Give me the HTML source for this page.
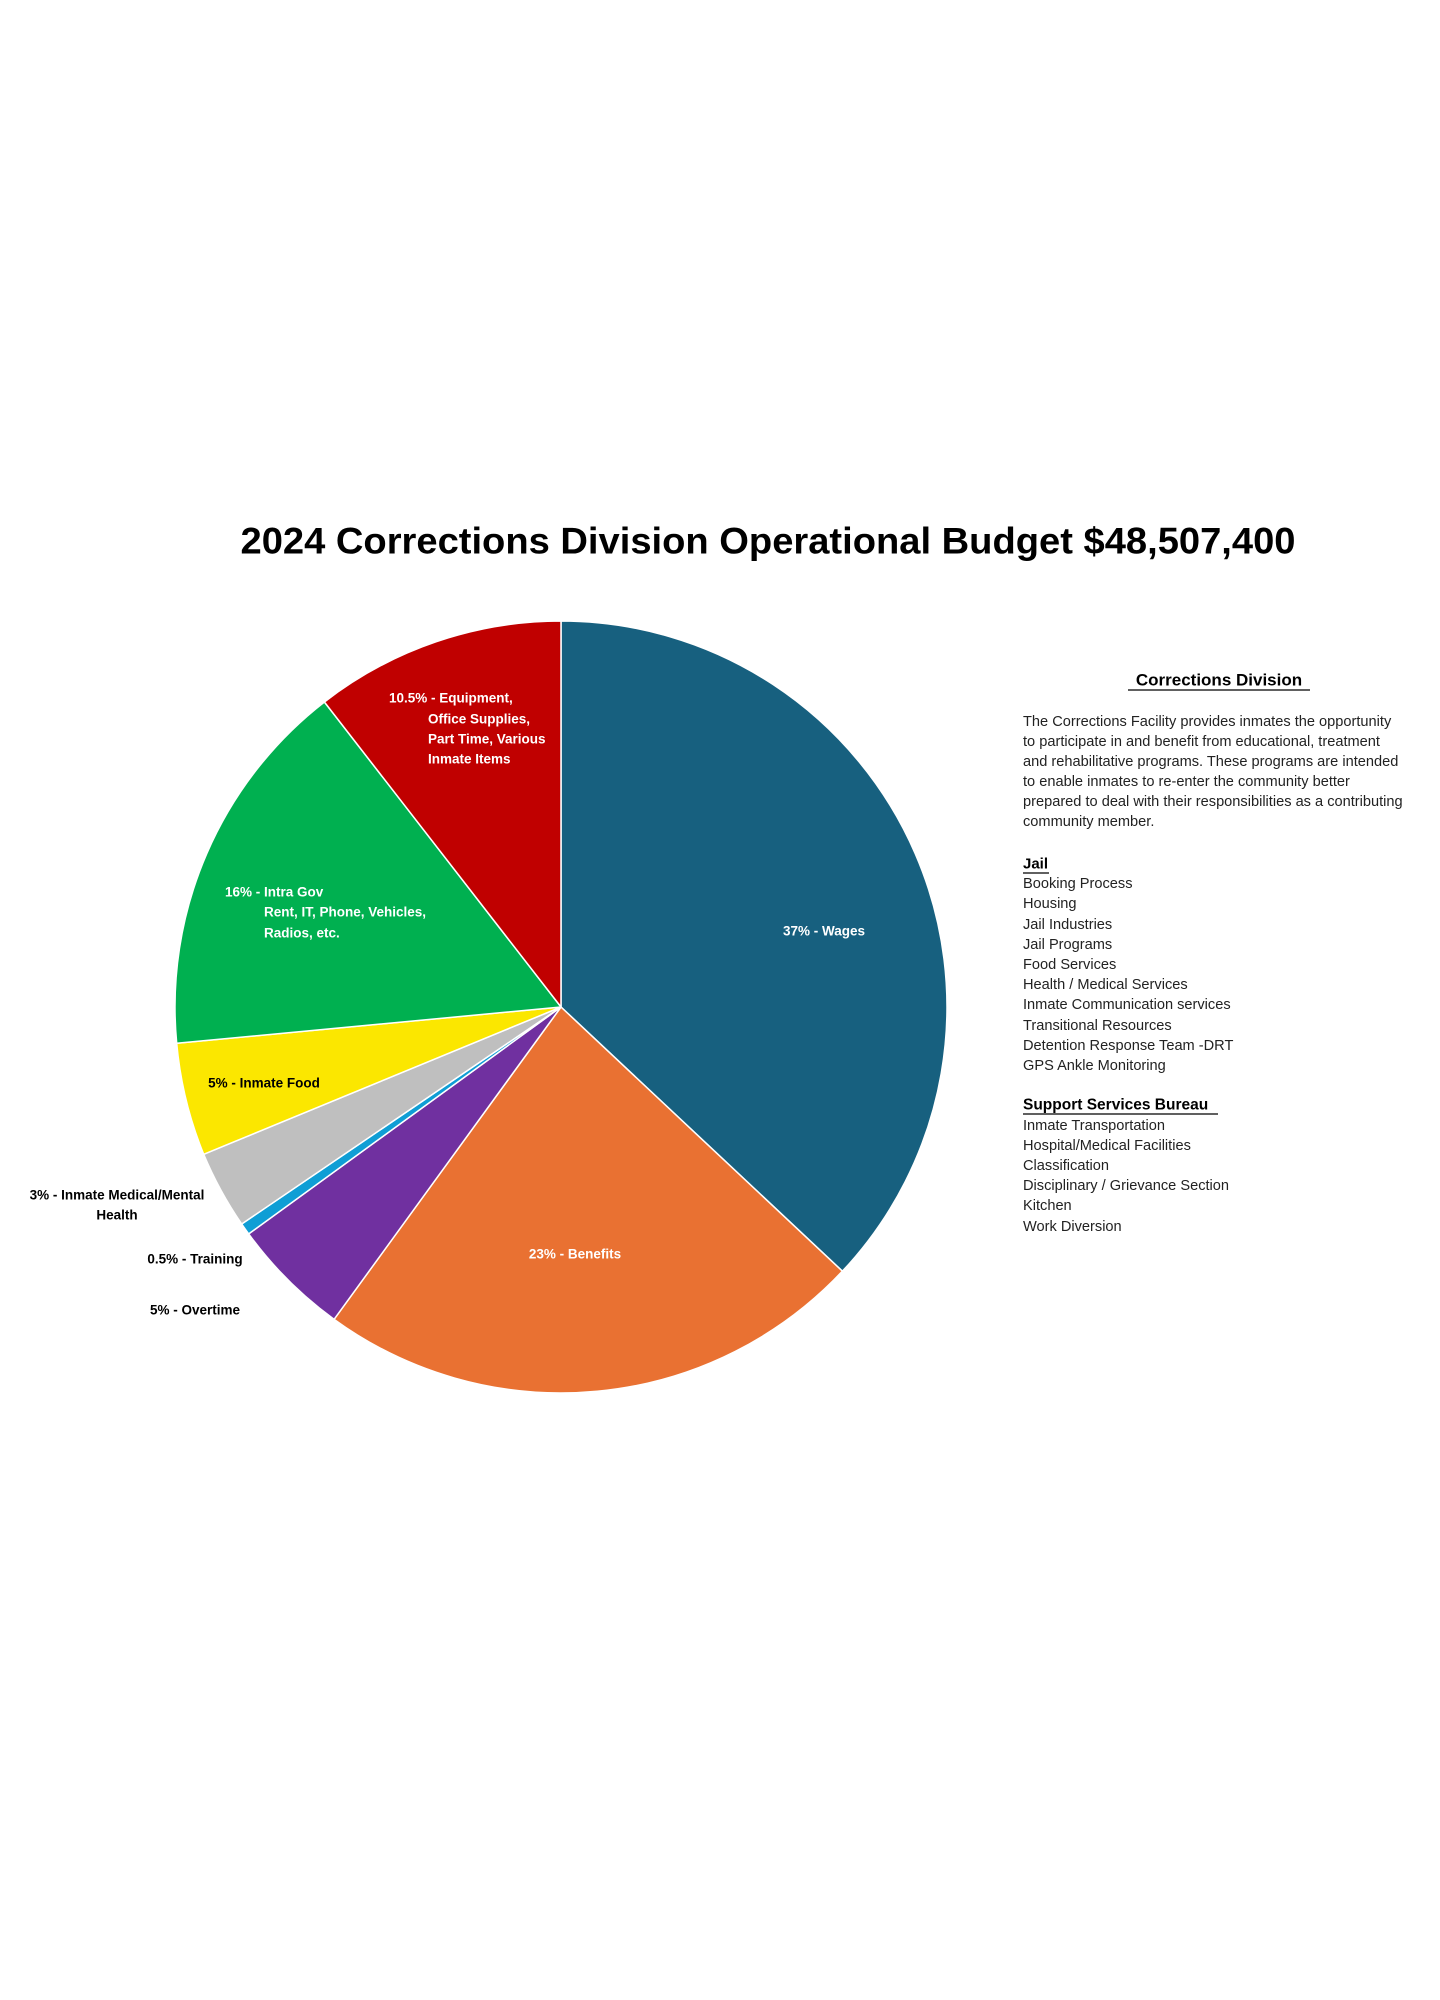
<!DOCTYPE html>
<html><head><meta charset="utf-8"><style>
html,body{margin:0;padding:0;background:#fff;}
svg{display:block;}
text{font-family:"Liberation Sans",sans-serif;}
</style></head><body>
<svg width="1440" height="2000" viewBox="0 0 1440 2000" xmlns="http://www.w3.org/2000/svg">
<rect width="1440" height="2000" fill="#fff"/>
<text x="768" y="541" font-size="37" font-weight="bold" text-anchor="middle" dominant-baseline="central" textLength="1055" lengthAdjust="spacingAndGlyphs" fill="#000">2024 Corrections Division Operational Budget $48,507,400</text>
<g stroke="#fff" stroke-width="1.5" stroke-linejoin="round">
<path d="M561,1007 L561,621 A386,386 0 0 1 842.4,1271.2 Z" fill="#17607f"/>
<path d="M561,1007 L842.4,1271.2 A386,386 0 0 1 334.1,1319.3 Z" fill="#e97132"/>
<path d="M561,1007 L334.1,1319.3 A386,386 0 0 1 248.7,1233.9 Z" fill="#7030a0"/>
<path d="M561,1007 L248.7,1233.9 A386,386 0 0 1 241.7,1224.0 Z" fill="#0f9ed5"/>
<path d="M561,1007 L241.7,1224.0 A386,386 0 0 1 203.7,1154.3 Z" fill="#bfbfbf"/>
<path d="M561,1007 L203.7,1154.3 A386,386 0 0 1 176.7,1043.3 Z" fill="#fbe700"/>
<path d="M561,1007 L176.7,1043.3 A386,386 0 0 1 324.4,702.0 Z" fill="#00b050"/>
<path d="M561,1007 L324.4,702.0 A386,386 0 0 1 561,621 Z" fill="#c00000"/>
</g>
<g font-size="13.5" font-weight="bold">
<text x="824" y="931" fill="#fff" text-anchor="middle" dominant-baseline="central">37% - Wages</text>
<text x="575" y="1254" fill="#fff" text-anchor="middle" dominant-baseline="central">23% - Benefits</text>
<text x="195" y="1310" fill="#000" text-anchor="middle" dominant-baseline="central">5% - Overtime</text>
<text x="195" y="1259" fill="#000" text-anchor="middle" dominant-baseline="central">0.5% - Training</text>
<text x="117" y="1195" fill="#000" text-anchor="middle" dominant-baseline="central">3% - Inmate Medical/Mental</text>
<text x="117" y="1215" fill="#000" text-anchor="middle" dominant-baseline="central">Health</text>
<text x="264" y="1083" fill="#000" text-anchor="middle" dominant-baseline="central">5% - Inmate Food</text>
<text x="225" y="892" fill="#fff" dominant-baseline="central">16% - Intra Gov</text>
<text x="264" y="912" fill="#fff" dominant-baseline="central">Rent, IT, Phone, Vehicles,</text>
<text x="264" y="933" fill="#fff" dominant-baseline="central">Radios,  etc.</text>
<text x="389" y="698" fill="#fff" dominant-baseline="central">10.5% - Equipment,</text>
<text x="428" y="719" fill="#fff" dominant-baseline="central">Office Supplies,</text>
<text x="428" y="739" fill="#fff" dominant-baseline="central">Part Time, Various</text>
<text x="428" y="759" fill="#fff" dominant-baseline="central">Inmate Items</text>
</g>
<text x="1219" y="680" font-size="17" font-weight="bold" text-anchor="middle" dominant-baseline="central" fill="#000">Corrections Division</text>
<line x1="1128" y1="690" x2="1310" y2="690" stroke="#000" stroke-width="1.3"/>
<g font-size="14.6" fill="#222">
<text x="1023" y="722" dominant-baseline="central">The Corrections Facility provides inmates the opportunity</text>
<text x="1023" y="742" dominant-baseline="central">to participate in and benefit from educational, treatment</text>
<text x="1023" y="762" dominant-baseline="central">and rehabilitative programs. These programs are intended</text>
<text x="1023" y="782" dominant-baseline="central">to enable inmates to re-enter the community better</text>
<text x="1023" y="802" dominant-baseline="central">prepared to deal with their responsibilities as a contributing</text>
<text x="1023" y="822" dominant-baseline="central">community member.</text>
<text x="1023" y="864" font-weight="bold" font-size="15" fill="#000" dominant-baseline="central">Jail</text>
<text x="1023" y="884" dominant-baseline="central">Booking Process</text>
<text x="1023" y="904" dominant-baseline="central">Housing</text>
<text x="1023" y="925" dominant-baseline="central">Jail Industries</text>
<text x="1023" y="945" dominant-baseline="central">Jail Programs</text>
<text x="1023" y="965" dominant-baseline="central">Food Services</text>
<text x="1023" y="985" dominant-baseline="central">Health / Medical Services</text>
<text x="1023" y="1005" dominant-baseline="central">Inmate Communication services</text>
<text x="1023" y="1026" dominant-baseline="central">Transitional Resources</text>
<text x="1023" y="1046" dominant-baseline="central">Detention Response Team -DRT</text>
<text x="1023" y="1066" dominant-baseline="central">GPS Ankle Monitoring</text>
<text x="1023" y="1105" font-weight="bold" font-size="15.5" fill="#000" dominant-baseline="central">Support Services Bureau</text>
<text x="1023" y="1126" dominant-baseline="central">Inmate Transportation</text>
<text x="1023" y="1146" dominant-baseline="central">Hospital/Medical Facilities</text>
<text x="1023" y="1166" dominant-baseline="central">Classification</text>
<text x="1023" y="1186" dominant-baseline="central">Disciplinary / Grievance Section</text>
<text x="1023" y="1206" dominant-baseline="central">Kitchen</text>
<text x="1023" y="1227" dominant-baseline="central">Work Diversion</text>
</g>
<line x1="1023" y1="873" x2="1049" y2="873" stroke="#000" stroke-width="1.2"/>
<line x1="1023" y1="1114" x2="1218" y2="1114" stroke="#000" stroke-width="1.2"/>
</svg>
</body></html>
